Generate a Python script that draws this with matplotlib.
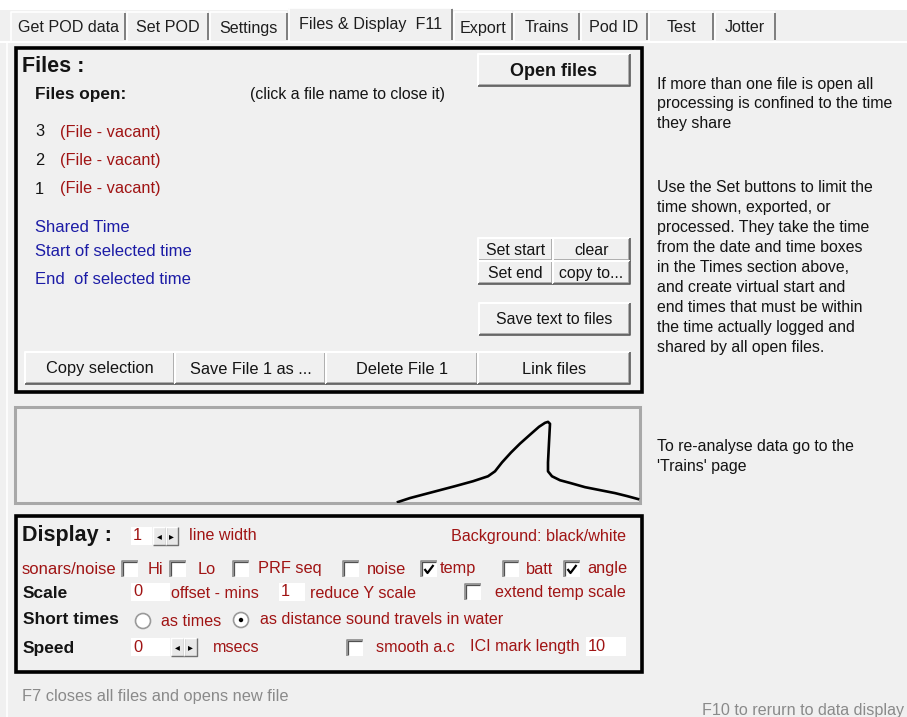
import matplotlib
matplotlib.use("Agg")
import matplotlib.pyplot as plt
from matplotlib.patches import Rectangle, Circle

W, H = 907, 717
BG = "#f0f0f0"
RED = "#a01414"
BLUE = "#1c1ca6"
INK = "#141414"
FONT = "Liberation Sans"

# tab strip
tab_labels = ["Get POD data", "Set POD", "Settings", "Files & Display  F11",
              "Export", "Trains", "Pod ID", "Test", "Jotter"]
tab_edges = [10, 126, 209, 288, 453, 513, 580, 648, 714, 776]
active_tab = 3

# files panel
file_numbers = ["3", "2", "1"]
file_labels = ["(File - vacant)", "(File - vacant)", "(File - vacant)"]
time_labels = ["Shared Time", "Start of selected time", "End  of selected time"]
bottom_buttons = ["Copy selection", "Save File 1 as ...", "Delete File 1", "Link files"]

# side notes
note_1 = ["If more than one file is open all",
          "processing is confined to the time",
          "they share"]
note_2 = ["Use the Set buttons to limit the",
          "time shown, exported, or",
          "processed. They take the time",
          "from the date and time boxes",
          "in the Times section above,",
          "and create virtual start and",
          "end times that must be within",
          "the time actually logged and",
          "shared by all open files."]
note_3 = ["To re-analyse data go to the", "'Trains' page"]

# preview trace (px right of / above the box's lower-left corner)
curve_x = [383, 395, 410, 425, 440, 458, 473, 480, 487, 496, 505, 515, 524, 530,
           533, 535, 534, 533, 533, 537, 545, 556, 570, 585, 600, 612, 623]
curve_y = [0, 4, 8, 12, 16, 21, 26, 31, 40, 50, 59, 68, 76, 80,
           81, 79, 60, 40, 31, 26, 22, 19, 15, 12, 9, 6, 3]

# display panel check boxes: (label, x of box, checked)
check_row = [("Hi", 122, False), ("Lo", 170, False), ("PRF seq", 233, False),
             ("noise", 343, False), ("temp", 421, True), ("batt", 503, False),
             ("angle", 564, True)]
check_label_x = [148, 198, 258, 367, 440, 526, 587]

fig = plt.figure(figsize=(W / 100, H / 100), dpi=100)
fig.patch.set_facecolor(BG)
ax = fig.add_axes([0, 0, 1, 1])
ax.set_xlim(0, W)
ax.set_ylim(H, 0)
ax.axis("off")


def txt(x, y, s, size=11.2, color=INK, weight="normal", ha="left", **kw):
    ax.text(x, y, s, fontsize=size, color=color, fontweight=weight, ha=ha,
            va="center", family=FONT, **kw)


def line(xs, ys, color, lw=1.0):
    ax.plot(xs, ys, color=color, lw=lw, solid_capstyle="butt")


def button(x0, y0, x1, y1, label, bold=False, size=11.4):
    ax.add_patch(Rectangle((x0, y0), x1 - x0, y1 - y0, facecolor=BG, edgecolor="none"))
    line([x0, x0, x1], [y1, y0, y0], "white", 1.5)
    line([x0 + 1, x1 - 1, x1 - 1], [y1 - 1, y1 - 1, y0 + 1], "#a0a0a0", 1.2)
    line([x0, x1, x1], [y1, y1, y0], "#5a5a5a", 1.2)
    txt((x0 + x1) / 2, (y0 + y1) / 2 + 1, label, size=size, ha="center",
        weight="bold" if bold else "normal")


def checkbox(x, y, checked=False, s=16):
    ax.add_patch(Rectangle((x, y), s, s, facecolor="white", edgecolor="none"))
    line([x, x, x + s], [y + s, y, y], "#8c8c8c", 1.2)
    line([x + 1, x + 1, x + s - 1], [y + s - 1, y + 1, y + 1], "#505050", 0.9)
    if checked:
        ax.plot([x + 3.5, x + 6.5, x + 12.5], [y + 8, y + 12, y + 4],
                color="black", lw=1.6, solid_capstyle="butt")


def radio(cx, cy, selected=False):
    ax.add_patch(Circle((cx, cy), 7.5, facecolor="white", edgecolor="#9a9a9a", lw=1.2))
    if selected:
        ax.add_patch(Circle((cx, cy), 2.2, facecolor="black", edgecolor="none"))


def field(x0, y0, x1, y1, s):
    ax.add_patch(Rectangle((x0, y0), x1 - x0, y1 - y0, facecolor="white", edgecolor="none"))
    txt(x0 + 2, (y0 + y1) / 2, s, color=RED, size=11.8)


def spinner(x0, y0, x1, y1):
    mid = (x0 + x1) / 2
    for a, b, mark in [(x0, mid, "◂"), (mid, x1, "▸")]:
        ax.add_patch(Rectangle((a, y0), b - a, y1 - y0, facecolor="#e8e8e8", edgecolor="none"))
        line([a, a, b], [y1, y0, y0], "white", 1.0)
        line([a, b, b], [y1, y1, y0], "#707070", 1.0)
        ax.text((a + b) / 2, (y0 + y1) / 2, mark, fontsize=7, ha="center", va="center",
                family="DejaVu Sans", color="black")


# --- top strip and tabs ---
ax.add_patch(Rectangle((0, 0), W, 10, facecolor="white", edgecolor="none"))
line([0, W], [41.5, 41.5], "white", 1.5)
line([7, 7], [42, H], "white", 1.2)
for i, lab in enumerate(tab_labels):
    x0, x1 = tab_edges[i], tab_edges[i + 1]
    top = 8 if i == active_tab else 12
    ax.add_patch(Rectangle((x0, top), x1 - x0, 41 - top, facecolor=BG, edgecolor="none"))
    line([x0 + 1, x0 + 1, x1 - 1], [41, top, top], "white", 1.2)
    line([x1 - 1, x1 - 1], [top + 1, 40], "#6a6a6a", 1.2)
    ty = 25 if i == active_tab else 28
    txt((x0 + x1) / 2, ty, lab, size=11.6, ha="center", color="#1e1e1e")

# --- files panel ---
ax.add_patch(Rectangle((16, 48), 626, 344, facecolor="none", edgecolor="black", lw=2.6))
txt(22, 66, "Files :", size=15.5, weight="bold")
txt(35, 95, "Files open:", size=12.4, weight="bold")
txt(250, 95, "(click a file name to close it)", size=11.4)
button(478, 54, 630, 86, "Open files", bold=True, size=13)

for i, (num, lab) in enumerate(zip(file_numbers, file_labels)):
    y = 132 + i * 28.5
    txt(35, y, num, size=11.8)
    txt(60, y, lab, size=11.8, color=RED)
for y, lab in zip([228, 251, 279], time_labels):
    txt(35, y, lab, size=12, color=BLUE)

button(478, 238, 553, 261, "Set start")
button(553, 238, 630, 261, "clear")
button(478, 261, 553, 284, "Set end")
button(553, 261, 630, 284, "copy to...")
button(479, 303, 630, 335, "Save text to files")
for lab, (x0, x1) in zip(bottom_buttons, [(25, 175), (175, 326), (326, 478), (478, 630)]):
    button(x0, 352, x1, 384, lab, size=11.8)

for j, s in enumerate(note_1):
    txt(657, 84 + j * 19.7, s, size=11.4)
for j, s in enumerate(note_2):
    txt(657, 187 + j * 20.1, s, size=11.4)
for j, s in enumerate(note_3):
    txt(657, 446 + j * 20, s, size=11.4)

# --- preview trace ---
box_x0, box_y0, box_x1, box_y1 = 15, 407, 640, 503
ax.add_patch(Rectangle((box_x0, box_y0), box_x1 - box_x0, box_y1 - box_y0,
                       facecolor="none", edgecolor="#a8a8a8", lw=2.2))
pax = fig.add_axes([box_x0 / W, 1 - box_y1 / H, (box_x1 - box_x0) / W, (box_y1 - box_y0) / H])
pax.set_xlim(0, box_x1 - box_x0)
pax.set_ylim(-1, box_y1 - box_y0)
pax.axis("off")
pax.plot(curve_x, curve_y, color="black", lw=1.9)

# --- display panel ---
ax.add_patch(Rectangle((16, 516), 626, 156, facecolor="none", edgecolor="black", lw=2.6))
txt(22, 535, "Display :", size=15.5, weight="bold")
field(131, 527, 152, 545, "1")
spinner(153, 527, 178, 545)
txt(189, 536, "line width", color=RED, size=11.6)
txt(626, 536, "Background: black/white", color=RED, ha="right", size=11.6)

txt(22, 569, "sonars/noise", color=RED, size=12)
for (lab, bx, on), lx in zip(check_row, check_label_x):
    checkbox(bx, 561, on)
    txt(lx, 569, lab, color=RED, size=11.8)

txt(23, 594, "Scale", size=12.5, weight="bold")
field(131, 583, 170, 601, "0")
txt(171, 593, "offset - mins", color=RED, size=11.6)
field(279, 583, 305, 601, "1")
txt(310, 593, "reduce Y scale", color=RED, size=11.6)
checkbox(465, 584)
txt(495, 593, "extend temp scale", color=RED, size=11.6)

txt(23, 620, "Short times", size=12.5, weight="bold")
radio(143, 621)
txt(161, 621, "as times", color=RED, size=11.6)
radio(241, 620, selected=True)
txt(260, 620, "as distance sound travels in water", color=RED, size=11.6)

txt(23, 648, "Speed", size=12.5, weight="bold")
field(131, 638, 170, 656, "0")
spinner(171, 638, 197, 656)
txt(213, 647, "msecs", color=RED, size=11.6)
checkbox(347, 640)
txt(376, 648, "smooth a.c", color=RED, size=11.6)
txt(470, 647, "ICI mark length", color=RED, size=11.6)
field(586, 637, 626, 656, "10")

# --- footer ---
txt(22, 697, "F7 closes all files and opens new file", color="#8a8a8a", size=11.8)
txt(904, 710, "F10 to rerurn to data display", color="#8a8a8a", size=11.6, ha="right")

fig.savefig("out.png", dpi=100, facecolor=BG)
